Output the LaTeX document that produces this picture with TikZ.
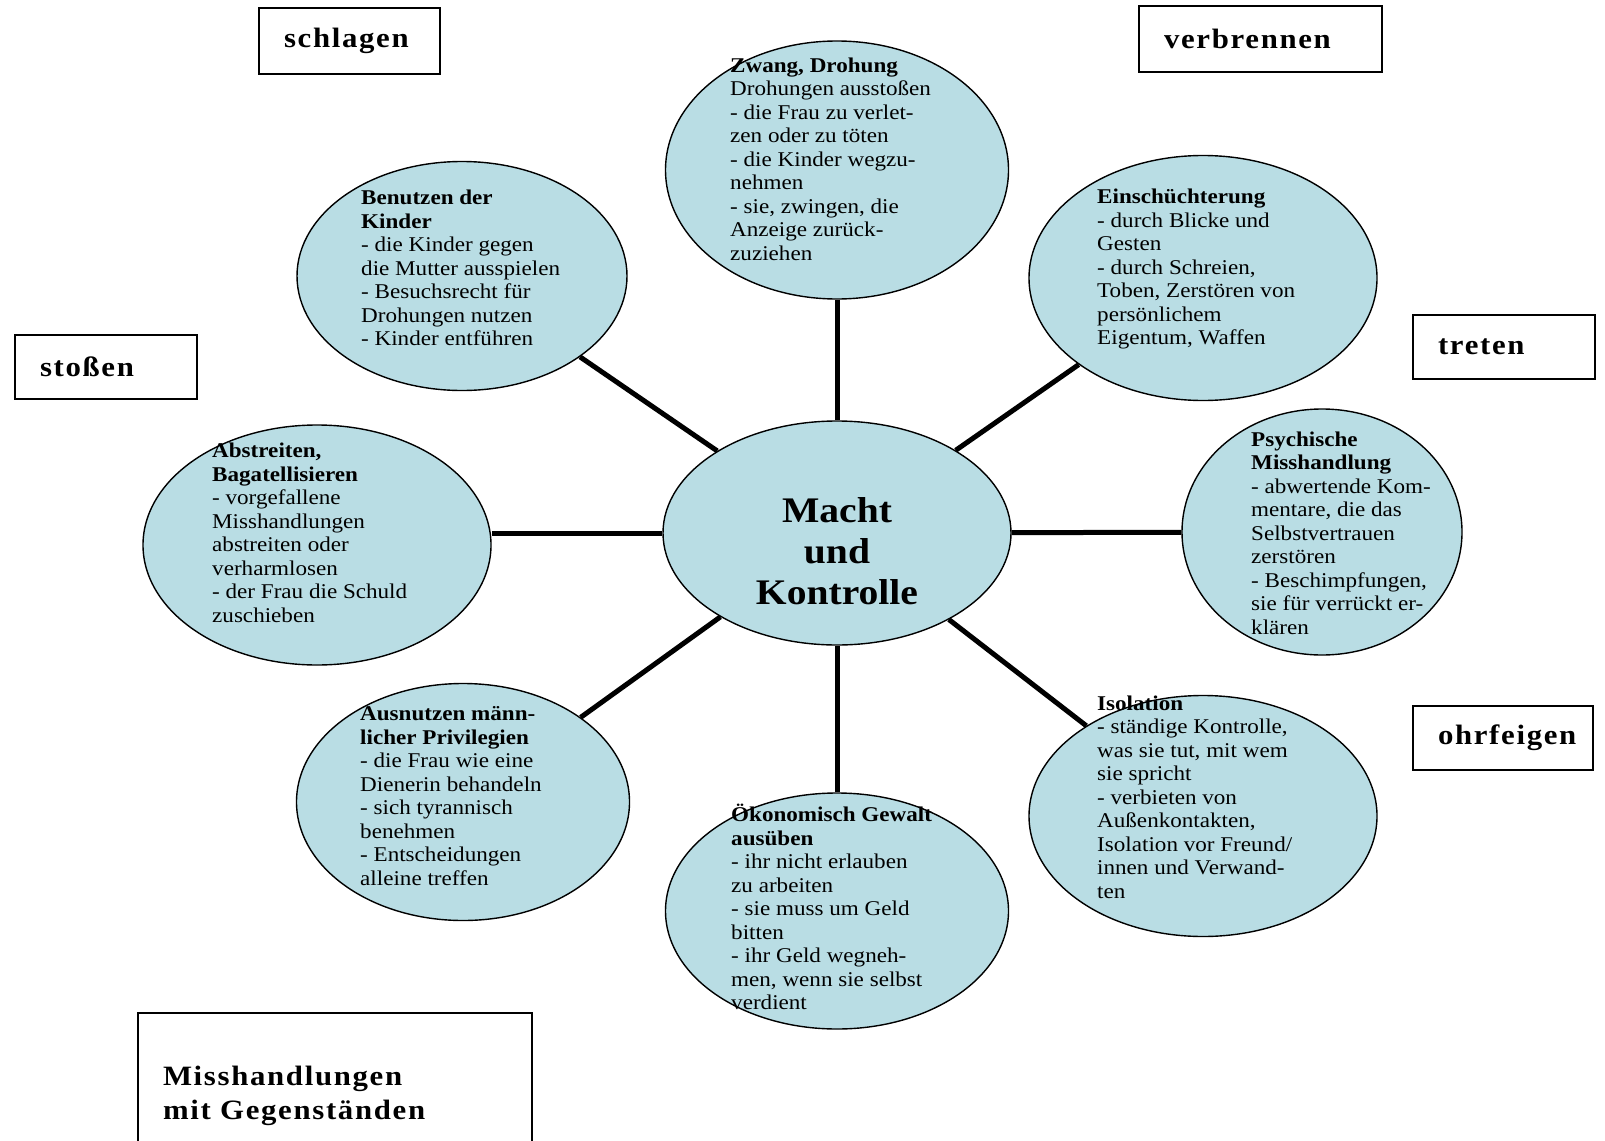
\documentclass[tikz,border=0pt]{standalone}
\usepackage{fontspec}
\setmainfont{Liberation Serif}[FakeStretch=1.1]
\usetikzlibrary{shapes.geometric, positioning}

\definecolor{ovalblue}{RGB}{185,221,228}
\newcommand{\tagfont}{\fontsize{28}{34}\selectfont\bfseries\addfontfeature{LetterSpace=6}}

\tikzset{
  oval/.style={draw, ellipse, fill=ovalblue, line width=1.4pt, inner sep=0pt},
  ovaltext/.style={anchor=west, align=left, inner sep=0pt, font=\fontsize{21}{23.5}\selectfont},
  tag/.style={draw, line width=2pt, inner xsep=25pt, inner ysep=0pt, align=left, font=\tagfont},
  spoke/.style={line width=5pt}
}

\begin{document}
\begin{tikzpicture}[x=1pt, y=-1pt]

    \useasboundingbox (0,0) rectangle (1605,1140);
    \clip (0,0) rectangle (1605,1140);
    \fill[white] (0,0) rectangle (1605,1140);

    % the centre and the eight ovals round it
    \node[oval, minimum width=348pt, minimum height=224pt] (macht) at (837,533) {};
    \node[oval, minimum width=343pt, minimum height=258pt] (zwang) at (837,170) {};
    \node[oval, minimum width=330pt, minimum height=229pt] (kinder) at (462,276) {};
    \node[oval, minimum width=348pt, minimum height=245pt] (einsch) at (1203,278) {};
    \node[oval, minimum width=348pt, minimum height=240pt] (abstr) at (317,545) {};
    \node[oval, minimum width=280pt, minimum height=246pt] (psych) at (1322,532) {};
    \node[oval, minimum width=333pt, minimum height=237pt] (privileg) at (463,802) {};
    \node[oval, minimum width=343pt, minimum height=236pt] (geld) at (837,911) {};
    \node[oval, minimum width=348pt, minimum height=241pt] (isol) at (1203,816) {};

    % spokes
    \draw[spoke] (zwang) -- (macht);
    \draw[spoke] (kinder) -- (macht);
    \draw[spoke] (einsch) -- (macht);
    \draw[spoke] (macht.west) -- (macht.west -| abstr.east);
    \draw[spoke] (psych) -- (macht);
    \draw[spoke] (privileg) -- (macht);
    \draw[spoke] (geld) -- (macht);
    \draw[spoke] (isol) -- (macht);

    % texts in the ovals
    \node[align=center, inner sep=0pt, font=\fontsize{36}{41}\selectfont\bfseries] (machttext) at (837,551) {Macht\\und\\Kontrolle};
    \node[ovaltext] (zwangtext) at (730,159) {\textbf{Zwang, Drohung}\\Drohungen ausstoßen\\- die Frau zu verlet-\\zen oder zu töten\\- die Kinder wegzu-\\nehmen\\- sie, zwingen, die\\Anzeige zurück-\\zuziehen};
    \node[ovaltext] (kindertext) at (361,268) {\textbf{Benutzen der}\\\textbf{Kinder}\\- die Kinder gegen\\die Mutter ausspielen\\- Besuchsrecht für\\Drohungen nutzen\\- Kinder entführen};
    \node[ovaltext] (einschtext) at (1097,269) {\textbf{Einschüchterung}\\- durch Blicke und\\Gesten\\- durch Schreien,\\Toben, Zerstören von\\persönlichem\\Eigentum, Waffen};
    \node[ovaltext] (abstrtext) at (212,533) {\textbf{Abstreiten,}\\\textbf{Bagatellisieren}\\- vorgefallene\\Misshandlungen\\abstreiten oder\\verharmlosen\\- der Frau die Schuld\\zuschieben};
    \node[ovaltext] (psychtext) at (1251,533) {\textbf{Psychische}\\\textbf{Misshandlung}\\- abwertende Kom-\\mentare, die das\\Selbstvertrauen\\zerstören\\- Beschimpfungen,\\sie für verrückt er-\\klären};
    \node[ovaltext] (privilegtext) at (360,796) {\textbf{Ausnutzen männ-}\\\textbf{licher Privilegien}\\- die Frau wie eine\\Dienerin behandeln\\- sich tyrannisch\\benehmen\\- Entscheidungen\\alleine treffen};
    \node[ovaltext] (geldtext) at (731,907) {\textbf{Ökonomisch Gewalt}\\\textbf{ausüben}\\- ihr nicht erlauben\\zu arbeiten\\- sie muss um Geld\\bitten\\- ihr Geld wegneh-\\men, wenn sie selbst\\verdient};
    \node[ovaltext] (isoltext) at (1097,797) {\textbf{Isolation}\\- ständige Kontrolle,\\was sie tut, mit wem\\sie spricht\\- verbieten von\\Außenkontakten,\\Isolation vor Freund/\\innen und Verwand-\\ten};

    % boxes with the kinds of violence
    \node[tag, minimum height=66pt, text width=131pt] (schlagen) at (349.5,41) {schlagen};
    \node[tag, minimum height=66pt, text width=193pt] (verbrennen) at (1260.5,39) {verbrennen};
    \node[tag, minimum height=64pt, text width=132pt] (stossen) at (106,367) {stoßen};
    \node[tag, minimum height=64pt, text width=132pt] (treten) at (1504,347) {treten};
    \node[tag, minimum height=64pt, text width=130pt] (ohrfeigen) at (1503,738) {ohrfeigen};
    \node[tag, minimum height=166pt, text width=344pt] (gegenst) at (335,1096) {Misshandlungen\\mit Gegenständen};

\end{tikzpicture}
\end{document}
